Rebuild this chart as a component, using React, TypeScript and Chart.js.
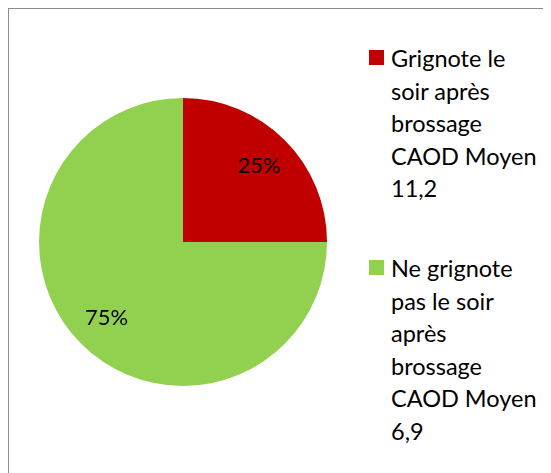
import React, { useEffect, useRef } from "react";
import { Chart, registerables } from "chart.js";

Chart.register(...registerables);

const categories = [
  "Grignote le soir après brossage CAOD Moyen 11,2",
  "Ne grignote pas le soir après brossage CAOD Moyen 6,9",
];
const legendLines = [
  ["Grignote le", "soir après", "brossage", "CAOD Moyen", "11,2"],
  ["Ne grignote", "pas le soir", "après", "brossage", "CAOD Moyen", "6,9"],
];
const values = [25, 75];
const pctLabels = ["25%", "75%"];
const colors = ["#C00000", "#92D050"];

const FONT = "Lato, 'Open Sans', sans-serif";

const labelPlugin = {
  id: "pctLabels",
  afterDatasetsDraw(chart: any) {
    const ctx = chart.ctx;
    const meta = chart.getDatasetMeta(0);
    ctx.save();
    ctx.font = `22px ${FONT}`;
    ctx.fillStyle = "#000";
    ctx.textAlign = "center";
    ctx.textBaseline = "middle";
    meta.data.forEach((arc: any, i: number) => {
      const p = arc.getProps(["x", "y", "startAngle", "endAngle", "outerRadius"], true);
      const mid = (p.startAngle + p.endAngle) / 2;
      const r = p.outerRadius * 0.75;
      ctx.fillText(pctLabels[i], p.x + Math.cos(mid) * r, p.y + Math.sin(mid) * r);
    });
    ctx.restore();
  },
};

export default function App() {
  const ref = useRef<HTMLCanvasElement | null>(null);
  useEffect(() => {
    if (!ref.current) return;
    const chart = new Chart(ref.current, {
      type: "pie",
      data: {
        labels: categories,
        datasets: [
          {
            data: values,
            backgroundColor: colors,
            borderWidth: 0,
          },
        ],
      },
      options: {
        animation: false,
        responsive: false,
        maintainAspectRatio: false,
        layout: { padding: { left: 30, top: 89, right: 32, bottom: 88 } },
        plugins: {
          legend: { display: false },
          tooltip: { enabled: false },
        },
      },
      plugins: [labelPlugin],
    });
    return () => chart.destroy();
  }, []);

  return (
    <div
      style={{
        position: "relative",
        width: 543,
        height: 465,
        borderTop: "1px solid #8c8c8c",
        borderLeft: "1px solid #8c8c8c",
        boxSizing: "border-box",
        background: "#fff",
        overflow: "hidden",
      }}
    >
      <canvas ref={ref} width={350} height={465} style={{ position: "absolute", left: 0, top: 0 }} />
      {legendLines.map((lines, i) => (
        <div
          key={i}
          style={{
            position: "absolute",
            left: 360,
            top: i === 0 ? 33 : 243,
            display: "flex",
            alignItems: "flex-start",
            fontFamily: FONT,
            fontSize: 23.5,
            lineHeight: "32.5px",
            color: "#000",
          }}
        >
          <div
            style={{
              width: 15,
              height: 15,
              background: colors[i],
              marginTop: 8,
              marginRight: 7,
              flex: "none",
            }}
          />
          <div>
            {lines.map((l, j) => (
              <div key={j} style={{ whiteSpace: "nowrap" }}>
                {l}
              </div>
            ))}
          </div>
        </div>
      ))}
    </div>
  );
}
